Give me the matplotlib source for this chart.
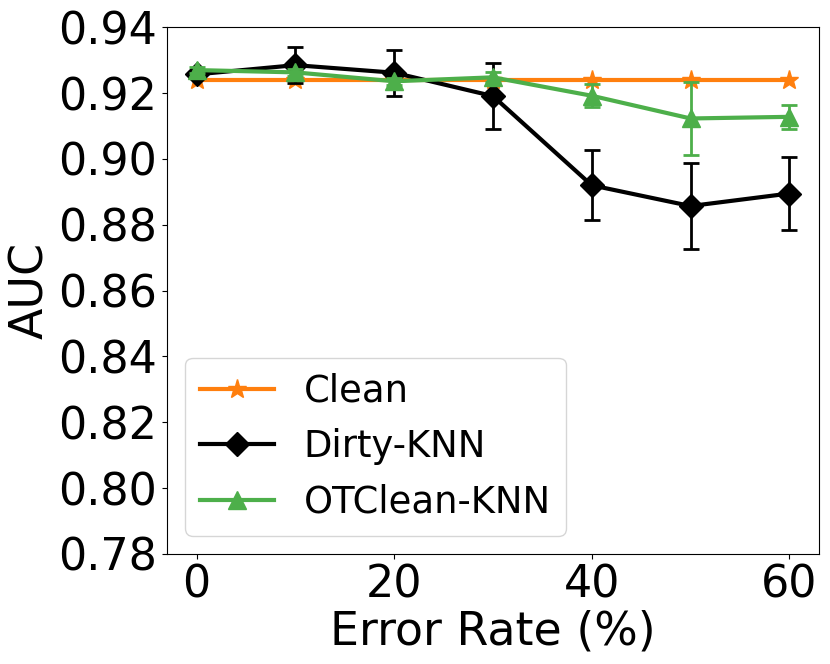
import matplotlib
matplotlib.use("Agg")
import matplotlib.pyplot as plt

error_rates = [0, 10, 20, 30, 40, 50, 60]
clean_auc = [0.924, 0.924, 0.924, 0.924, 0.924, 0.924, 0.924]
dirty_auc = [0.9257, 0.9285, 0.9262, 0.9191, 0.8920, 0.8857, 0.8895]
dirty_err = [0.0010, 0.0054, 0.0070, 0.0100, 0.0106, 0.0130, 0.0112]
ot_auc = [0.9270, 0.9263, 0.9236, 0.9248, 0.9192, 0.9123, 0.9128]
ot_err = [0.0010, 0.0010, 0.0010, 0.0015, 0.0035, 0.0112, 0.0037]

fig = plt.figure(figsize=(8.3, 6.64), dpi=100)
ax = fig.add_axes([0.2012, 0.1657, 0.7855, 0.7932])

ax.plot(error_rates, clean_auc, color='#ff7f0e', marker='*', markersize=14,
        linewidth=3, label='Clean')
ax.errorbar(error_rates, dirty_auc, yerr=dirty_err, fmt='none', ecolor='black',
            elinewidth=2, capsize=5.5, capthick=2)
ax.plot(error_rates, dirty_auc, color='black', marker='D', markersize=12,
        linewidth=3, label='Dirty-KNN')
ax.errorbar(error_rates, ot_auc, yerr=ot_err, fmt='none', ecolor='#4daf4a',
            elinewidth=2, capsize=5.5, capthick=2)
ax.plot(error_rates, ot_auc, color='#4daf4a', marker='^', markersize=13,
        linewidth=3, label='OTClean-KNN')

ax.set_ylim(0.78, 0.94)
ax.set_xticks([0, 20, 40, 60])
ax.set_yticks([0.78, 0.80, 0.82, 0.84, 0.86, 0.88, 0.90, 0.92, 0.94])
ax.tick_params(labelsize=32)
ax.set_xlabel('Error Rate (%)', fontsize=33, labelpad=2)
ax.set_ylabel('AUC', fontsize=33)
ax.legend(loc='lower left', fontsize=26.6)

fig.savefig('out.png', dpi=100)
